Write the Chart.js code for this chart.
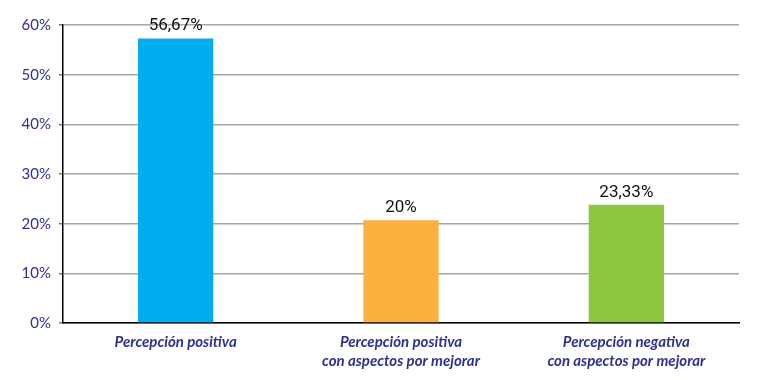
<!DOCTYPE html>
<html>
<head>
<meta charset="utf-8">
<script src="https://cdn.jsdelivr.net/npm/chart.js@4"></script>
<style>
  html, body { margin: 0; padding: 0; background: #fff; }
  #wrap { width: 771px; height: 380px; position: relative; }
</style>
</head>
<body>
<div id="wrap"><canvas id="chart"></canvas></div>
<script>
// categories, bar heights and the labels printed above them
const categories = [
  'Percepción positiva',
  ['Percepción positiva', 'con aspectos por mejorar'],
  ['Percepción negativa', 'con aspectos por mejorar']
];
const values = [57.3, 20.7, 23.8];
const valueLabels = ['56,67%', '20%', '23,33%'];
const barColors = ['#00aeef', '#fbb040', '#8dc63f'];
const yTicks = [0, 10, 20, 30, 40, 50, 60];

const textBlue = '#2e3192';

// draws the value text above each bar
const valueLabelPlugin = {
  id: 'valueLabels',
  afterDatasetsDraw(chart) {
    const ctx = chart.ctx;
    const meta = chart.getDatasetMeta(0);
    ctx.save();
    ctx.font = '17px Roboto';
    ctx.fillStyle = '#111';
    ctx.textAlign = 'center';
    ctx.textBaseline = 'alphabetic';
    meta.data.forEach((bar, i) => {
      ctx.fillText(valueLabels[i], bar.x, bar.y - 8);
    });
    ctx.restore();
  }
};

new Chart(document.getElementById('chart'), {
  type: 'bar',
  data: {
    labels: categories,
    datasets: [{
      data: values,
      backgroundColor: barColors,
      borderWidth: 0,
      categoryPercentage: 1,
      barPercentage: 0.334
    }]
  },
  options: {
    responsive: true,
    maintainAspectRatio: false,
    animation: false,
    layout: { padding: { top: 25, right: 32, left: 0, bottom: 0 } },
    plugins: {
      legend: { display: false },
      tooltip: { enabled: false }
    },
    scales: {
      x: {
        grid: { display: false, drawTicks: false },
        border: { color: '#000', width: 1.5 },
        ticks: {
          color: textBlue,
          font: { family: 'Lato', size: 15, style: 'italic', weight: 'bold', lineHeight: 1.25 },
          padding: 10,
          maxRotation: 0
        },
        afterFit(scale) { scale.height = 57; }
      },
      y: {
        min: 0,
        max: 60,
        afterBuildTicks(scale) { scale.ticks = yTicks.map(v => ({ value: v })); },
        grid: { color: '#a6a6a6', lineWidth: 1.5, tickLength: 4, tickColor: '#777' },
        border: { color: '#000', width: 1.5 },
        ticks: {
          color: textBlue,
          font: { family: 'Lato', size: 15 },
          padding: 8,
          callback: v => v + '%'
        },
        afterFit(scale) { scale.width = 63; }
      }
    }
  },
  plugins: [valueLabelPlugin]
});
</script>
</body>
</html>
